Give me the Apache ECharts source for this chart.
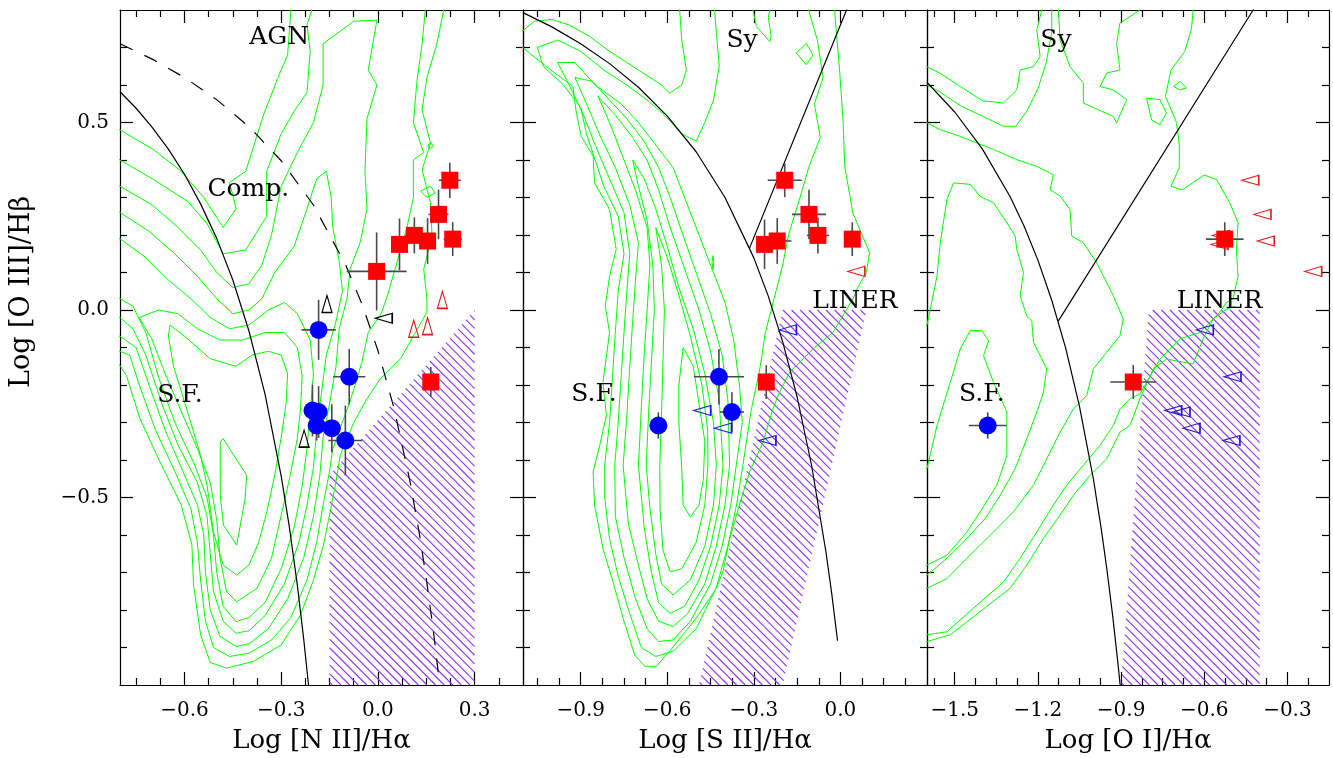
<!DOCTYPE html>
<html><head><meta charset="utf-8">
<script src="https://cdn.jsdelivr.net/npm/echarts@6/dist/echarts.min.js"></script>
<style>html,body{margin:0;padding:0;background:#fff}#c{width:1333px;height:758px}</style>
</head><body><div id="c"></div>
<script>
// ---------------- axes ----------------
const yRange = [-1.0, 0.8];
const yMajor = [-0.5, 0.0, 0.5];
const yMinor = [-0.9,-0.8,-0.7,-0.6,-0.4,-0.3,-0.2,-0.1,0.1,0.2,0.3,0.4,0.6,0.7];
const xRangeN2 = [-0.8, 0.45];
const xMajorN2 = [-0.6,-0.3,0.0,0.3];
const xMinorN2 = [-0.75,-0.675,-0.525,-0.45,-0.375,-0.225,-0.15,-0.075,0.075,0.15,0.225,0.375];
const xRangeS2 = [-1.1, 0.3];
const xMajorS2 = [-0.9,-0.6,-0.3,0.0];
const xMinorS2 = [-1.05,-0.975,-0.825,-0.75,-0.675,-0.525,-0.45,-0.375,-0.225,-0.15,-0.075,0.075,0.15,0.225];
const xRangeO1 = [-1.6, -0.15];
const xMajorO1 = [-1.5,-1.2,-0.9,-0.6,-0.3];
const xMinorO1 = [-1.575,-1.425,-1.35,-1.275,-1.125,-1.05,-0.975,-0.825,-0.75,-0.675,-0.525,-0.45,-0.375,-0.225];
const xTitles = ['Log [N II]/H\u03b1', 'Log [S II]/H\u03b1', 'Log [O I]/H\u03b1'];
const yTitle = 'Log [O III]/H\u03b2';

// ---------------- points: panel 1 [N II] ----------------
const n2RedX  = [0.223, 0.188, 0.113, 0.067, 0.154, 0.232, -0.004, 0.164];
const n2RedY  = [0.346, 0.255, 0.199, 0.175, 0.184, 0.189, 0.103, -0.192];
const n2RedEx = [0.034, 0.031, 0.028, 0.025, 0.020, 0.028, 0.093, 0.010];
const n2RedEy = [0.047, 0.066, 0.048, 0.069, 0.061, 0.045, 0.104, 0.040];
const n2BlueX  = [-0.184, -0.089, -0.203, -0.184, -0.190, -0.143, -0.101];
const n2BlueY  = [-0.053, -0.178, -0.268, -0.272, -0.308, -0.315, -0.348];
const n2BlueEx = [0.053, 0.050, 0.015, 0.015, 0.010, 0.020, 0.053];
const n2BlueEy = [0.080, 0.074, 0.069, 0.069, 0.040, 0.064, 0.093];
const n2BlackUpX = [-0.158, -0.229];
const n2BlackUpY = [0.016, -0.343];
const n2BlackLeftX = [0.018];
const n2BlackLeftY = [-0.022];
const n2RedUpX = [0.200, 0.111, 0.154];
const n2RedUpY = [0.027, -0.050, -0.043];

// ---------------- points: panel 2 [S II] ----------------
const s2RedX  = [-0.193, -0.109, -0.078, -0.263, -0.219, 0.041, -0.257];
const s2RedY  = [0.346, 0.255, 0.199, 0.175, 0.184, 0.189, -0.192];
const s2RedEx = [0.059, 0.059, 0.038, 0.028, 0.049, 0.028, 0.010];
const s2RedEy = [0.045, 0.066, 0.048, 0.066, 0.061, 0.045, 0.045];
const s2RedLeftX = [0.055];
const s2RedLeftY = [0.103];
const s2BlueX  = [-0.421, -0.376, -0.631];
const s2BlueY  = [-0.178, -0.272, -0.308];
const s2BlueEx = [0.087, 0.042, 0.005];
const s2BlueEy = [0.074, 0.053, 0.035];
const s2BlueLeftX = [-0.182, -0.479, -0.407, -0.253];
const s2BlueLeftY = [-0.053, -0.268, -0.315, -0.348];

// ---------------- points: panel 3 [O I] ----------------
const o1RedX  = [-0.526, -0.856];
const o1RedY  = [0.189, -0.192];
const o1RedEx = [0.068, 0.083];
const o1RedEy = [0.045, 0.045];
const o1RedLeftX = [-0.434, -0.390, -0.378, -0.207, -0.540, -0.545];
const o1RedLeftY = [0.346, 0.255, 0.184, 0.103, 0.199, 0.175];
const o1BlueX  = [-1.381];
const o1BlueY  = [-0.308];
const o1BlueEx = [0.068];
const o1BlueEy = [0.035];
const o1BlueLeftX = [-0.598, -0.498, -0.712, -0.682, -0.646, -0.502];
const o1BlueLeftY = [-0.053, -0.178, -0.268, -0.272, -0.315, -0.348];

// ---------------- demarcation curves (sampled) ----------------
const n2Kauff = [[-0.8,0.582],[-0.75,0.538],[-0.7,0.487],[-0.65,0.429],[-0.6,0.362],[-0.55,0.283],[-0.5,0.191],[-0.45,0.080],[-0.4,-0.056],[-0.35,-0.225],[-0.3,-0.443],[-0.275,-0.577],[-0.25,-0.733],[-0.23,-0.879],[-0.215,-1.002],[-0.21,-1.046]];
const n2Kewley = [[-0.8,0.710],[-0.7,0.669],[-0.6,0.620],[-0.5,0.561],[-0.4,0.489],[-0.3,0.398],[-0.2,0.280],[-0.1,0.120],[-0.05,0.017],[0.0,-0.108],[0.05,-0.262],[0.1,-0.459],[0.13,-0.604],[0.15,-0.716],[0.17,-0.843],[0.18,-0.913],[0.187,-0.966]];
const s2Kewley = [[-1.1,0.793],[-1.0,0.755],[-0.9,0.710],[-0.8,0.657],[-0.7,0.594],[-0.6,0.517],[-0.5,0.422],[-0.4,0.300],[-0.3,0.139],[-0.25,0.037],[-0.2,-0.085],[-0.15,-0.232],[-0.1,-0.414],[-0.05,-0.646],[-0.03,-0.757],[-0.01,-0.882]];
const s2SyLin = [[-0.315,0.165],[0.0212,0.80],[0.03,0.817]];
const o1Kewley = [[-1.6,0.607],[-1.5,0.528],[-1.4,0.429],[-1.3,0.302],[-1.25,0.224],[-1.2,0.133],[-1.15,0.026],[-1.1,-0.101],[-1.05,-0.257],[-1.0,-0.450],[-0.97,-0.591],[-0.95,-0.698],[-0.93,-0.817],[-0.91,-0.951],[-0.9,-1.025]];
const o1SyLin = [[-1.126,-0.029],[-0.4237,0.80],[-0.41,0.816]];

// ---------------- hatched regions ----------------
const n2Hatch = [[-0.15,-1.0],[0.30,-1.0],[0.30,0.0],[-0.15,-0.44]];
const s2Hatch = [[-0.20,0.0],[0.09,0.0],[-0.20,-1.0],[-0.49,-1.0]];
const o1Hatch = [[-0.80,0.0],[-0.40,0.0],[-0.40,-1.0],[-0.90,-1.0]];

// ---------------- density contours: panel 1 ----------------
const n2C1 = [[-0.85,0.51],[-0.8,0.48],[-0.7,0.43],[-0.61,0.37],[-0.54,0.30],[-0.48,0.22],[-0.44,0.27],[-0.46,0.34],[-0.41,0.37],[-0.355,0.52],[-0.31,0.62],[-0.28,0.68],[-0.27,0.8],[-0.27,0.86],[0.204,0.86],[0.204,0.8],[0.183,0.71],[0.152,0.62],[0.137,0.534],[0.163,0.445],[0.137,0.374],[0.163,0.286],[0.168,0.197],[0.142,0.109],[0.152,0.029],[0.152,-0.006],[0.07,-0.13],[0.007,-0.184],[-0.034,-0.237],[-0.075,-0.30],[-0.117,-0.388],[-0.132,-0.467],[-0.148,-0.538],[-0.169,-0.627],[-0.20,-0.72],[-0.24,-0.813],[-0.30,-0.893],[-0.386,-0.937],[-0.469,-0.955],[-0.52,-0.94],[-0.55,-0.866],[-0.572,-0.733],[-0.577,-0.627],[-0.61,-0.52],[-0.676,-0.405],[-0.738,-0.29],[-0.78,-0.175],[-0.8,-0.148],[-0.85,-0.12]];
const n2C2 = [[-0.85,0.43],[-0.8,0.40],[-0.70,0.35],[-0.59,0.29],[-0.53,0.23],[-0.48,0.15],[-0.41,0.16],[-0.345,0.25],[-0.345,0.37],[-0.30,0.47],[-0.26,0.53],[-0.22,0.58],[-0.21,0.69],[-0.22,0.76],[-0.205,0.8],[-0.205,0.86],[0.147,0.86],[0.147,0.8],[0.137,0.71],[0.121,0.61],[0.11,0.50],[0.142,0.42],[0.11,0.40],[0.11,0.30],[0.09,0.22],[0.06,0.13],[0.03,0.04],[0.01,-0.01],[-0.03,-0.06],[-0.05,-0.14],[-0.085,-0.24],[-0.115,-0.31],[-0.14,-0.37],[-0.15,-0.43],[-0.17,-0.52],[-0.19,-0.62],[-0.22,-0.72],[-0.27,-0.82],[-0.33,-0.88],[-0.40,-0.915],[-0.46,-0.924],[-0.51,-0.90],[-0.535,-0.83],[-0.55,-0.72],[-0.56,-0.62],[-0.58,-0.53],[-0.63,-0.43],[-0.69,-0.32],[-0.74,-0.20],[-0.77,-0.12],[-0.8,-0.11],[-0.85,-0.10]];
const n2C3 = [[-0.85,0.35],[-0.8,0.33],[-0.70,0.28],[-0.62,0.22],[-0.55,0.16],[-0.50,0.10],[-0.45,0.06],[-0.40,0.07],[-0.36,0.12],[-0.33,0.20],[-0.30,0.33],[-0.25,0.42],[-0.20,0.50],[-0.17,0.60],[-0.17,0.71],[-0.075,0.77],[-0.003,0.773],[-0.03,0.64],[-0.003,0.60],[-0.034,0.51],[-0.04,0.37],[-0.034,0.27],[-0.055,0.18],[-0.086,0.11],[-0.096,0.03],[-0.12,-0.05],[-0.13,-0.15],[-0.15,-0.25],[-0.17,-0.34],[-0.18,-0.44],[-0.20,-0.55],[-0.23,-0.66],[-0.28,-0.77],[-0.34,-0.85],[-0.40,-0.89],[-0.44,-0.897],[-0.49,-0.87],[-0.52,-0.80],[-0.535,-0.70],[-0.54,-0.60],[-0.56,-0.52],[-0.61,-0.42],[-0.66,-0.32],[-0.71,-0.20],[-0.75,-0.10],[-0.8,-0.07],[-0.85,-0.06]];
const n2C4 = [[-0.85,0.28],[-0.8,0.26],[-0.71,0.21],[-0.63,0.15],[-0.56,0.09],[-0.50,0.03],[-0.45,-0.01],[-0.40,0.0],[-0.36,0.03],[-0.32,0.10],[-0.26,0.17],[-0.22,0.27],[-0.19,0.35],[-0.16,0.37],[-0.145,0.30],[-0.14,0.22],[-0.12,0.13],[-0.11,0.05],[-0.13,-0.03],[-0.16,-0.12],[-0.175,-0.22],[-0.19,-0.32],[-0.20,-0.42],[-0.22,-0.52],[-0.245,-0.62],[-0.29,-0.73],[-0.35,-0.815],[-0.40,-0.855],[-0.44,-0.862],[-0.48,-0.83],[-0.51,-0.75],[-0.52,-0.65],[-0.53,-0.55],[-0.56,-0.46],[-0.62,-0.36],[-0.67,-0.25],[-0.72,-0.12],[-0.76,-0.05],[-0.8,-0.02],[-0.85,-0.01]];
const n2C5 = [[-0.85,0.21],[-0.8,0.19],[-0.72,0.14],[-0.65,0.08],[-0.58,0.03],[-0.52,-0.02],[-0.46,-0.05],[-0.40,-0.04],[-0.34,0.0],[-0.29,0.02],[-0.25,-0.01],[-0.21,-0.08],[-0.20,-0.17],[-0.21,-0.27],[-0.22,-0.37],[-0.235,-0.47],[-0.26,-0.58],[-0.30,-0.69],[-0.35,-0.78],[-0.40,-0.82],[-0.44,-0.831],[-0.48,-0.79],[-0.50,-0.70],[-0.51,-0.60],[-0.53,-0.50],[-0.57,-0.41],[-0.63,-0.30],[-0.68,-0.18],[-0.72,-0.06],[-0.76,0.01],[-0.8,0.03],[-0.85,0.04]];
const n2C6 = [[-0.74,-0.02],[-0.68,0.0],[-0.62,-0.01],[-0.56,-0.05],[-0.49,-0.08],[-0.42,-0.08],[-0.35,-0.06],[-0.29,-0.06],[-0.25,-0.10],[-0.235,-0.175],[-0.24,-0.264],[-0.25,-0.343],[-0.272,-0.441],[-0.30,-0.547],[-0.33,-0.662],[-0.375,-0.742],[-0.438,-0.778],[-0.47,-0.75],[-0.49,-0.66],[-0.50,-0.56],[-0.52,-0.46],[-0.56,-0.37],[-0.61,-0.27],[-0.66,-0.17],[-0.70,-0.08],[-0.74,-0.02]];
const n2C7 = [[-0.645,-0.04],[-0.65,-0.07],[-0.634,-0.15],[-0.593,-0.264],[-0.55,-0.388],[-0.53,-0.467],[-0.51,-0.592],[-0.48,-0.68],[-0.438,-0.707],[-0.40,-0.68],[-0.37,-0.62],[-0.345,-0.54],[-0.32,-0.44],[-0.30,-0.34],[-0.285,-0.25],[-0.28,-0.17],[-0.30,-0.12],[-0.34,-0.11],[-0.39,-0.12],[-0.44,-0.15],[-0.52,-0.13],[-0.60,-0.07],[-0.645,-0.04]];
const n2C8 = [[-0.489,-0.351],[-0.48,-0.343],[-0.407,-0.441],[-0.412,-0.503],[-0.438,-0.627],[-0.479,-0.574],[-0.489,-0.494],[-0.489,-0.351]];
const n2C9 = [[0.132,0.317],[0.163,0.33],[0.178,0.312],[0.152,0.30],[0.132,0.317]];
const n2C10 = [[0.155,0.44],[0.165,0.447],[0.172,0.436],[0.16,0.43],[0.155,0.44]];

// ---------------- density contours: panel 2 ----------------
const s2C1 = [[-1.12,0.745],[-1.1,0.745],[-1.06,0.77],[-1.0,0.775],[-0.94,0.76],[-0.87,0.73],[-0.80,0.69],[-0.74,0.66],[-0.68,0.63],[-0.62,0.60],[-0.592,0.578],[-0.55,0.60],[-0.534,0.64],[-0.55,0.72],[-0.557,0.8],[-0.557,0.86],[-0.02,0.86],[-0.02,0.8],[-0.014,0.738],[-0.003,0.64],[0.009,0.507],[0.015,0.383],[0.043,0.259],[0.101,0.153],[0.09,0.10],[0.06,0.06],[0.043,0.029],[-0.026,-0.06],[-0.095,-0.104],[-0.176,-0.166],[-0.211,-0.219],[-0.234,-0.264],[-0.268,-0.352],[-0.315,-0.432],[-0.35,-0.52],[-0.384,-0.61],[-0.407,-0.698],[-0.43,-0.742],[-0.50,-0.822],[-0.592,-0.91],[-0.638,-0.95],[-0.678,-0.95],[-0.713,-0.92],[-0.753,-0.822],[-0.788,-0.725],[-0.823,-0.636],[-0.852,-0.52],[-0.857,-0.432],[-0.834,-0.361],[-0.811,-0.281],[-0.823,-0.193],[-0.80,-0.06],[-0.815,0.01],[-0.80,0.09],[-0.777,0.162],[-0.80,0.268],[-0.852,0.339],[-0.857,0.41],[-0.898,0.463],[-0.915,0.525],[-0.927,0.596],[-1.019,0.649],[-1.077,0.685],[-1.1,0.70],[-1.12,0.71]];
const s2C2 = [[-1.05,0.70],[-0.98,0.72],[-0.90,0.69],[-0.82,0.64],[-0.74,0.60],[-0.67,0.56],[-0.61,0.52],[-0.55,0.47],[-0.50,0.45],[-0.47,0.50],[-0.44,0.56],[-0.42,0.65],[-0.43,0.74],[-0.436,0.8],[-0.436,0.86],[-0.11,0.86],[-0.11,0.8],[-0.08,0.72],[-0.06,0.62],[-0.09,0.55],[-0.07,0.46],[-0.11,0.38],[-0.14,0.30],[-0.18,0.20],[-0.20,0.12],[-0.23,0.03],[-0.26,-0.06],[-0.28,-0.16],[-0.31,-0.27],[-0.338,-0.414],[-0.36,-0.52],[-0.39,-0.63],[-0.43,-0.74],[-0.50,-0.85],[-0.58,-0.91],[-0.64,-0.924],[-0.69,-0.90],[-0.73,-0.81],[-0.77,-0.71],[-0.80,-0.61],[-0.817,-0.50],[-0.817,-0.414],[-0.80,-0.30],[-0.79,-0.18],[-0.78,-0.06],[-0.77,0.05],[-0.75,0.15],[-0.77,0.25],[-0.82,0.33],[-0.85,0.40],[-0.88,0.47],[-0.90,0.54],[-0.96,0.60],[-1.03,0.65],[-1.05,0.70]];
const s2C3 = [[-0.98,0.66],[-0.92,0.66],[-0.85,0.60],[-0.76,0.55],[-0.70,0.50],[-0.64,0.44],[-0.58,0.38],[-0.54,0.30],[-0.50,0.22],[-0.45,0.12],[-0.40,0.02],[-0.37,-0.08],[-0.35,-0.20],[-0.34,-0.30],[-0.361,-0.414],[-0.38,-0.52],[-0.41,-0.63],[-0.45,-0.73],[-0.52,-0.83],[-0.58,-0.88],[-0.63,-0.884],[-0.67,-0.85],[-0.71,-0.77],[-0.75,-0.66],[-0.78,-0.55],[-0.782,-0.414],[-0.77,-0.30],[-0.76,-0.18],[-0.75,-0.06],[-0.74,0.05],[-0.73,0.15],[-0.75,0.26],[-0.80,0.35],[-0.85,0.44],[-0.89,0.52],[-0.94,0.60],[-0.98,0.66]];
const s2C4 = [[-0.92,0.62],[-0.86,0.61],[-0.80,0.56],[-0.74,0.51],[-0.68,0.45],[-0.63,0.38],[-0.59,0.30],[-0.55,0.21],[-0.50,0.10],[-0.45,-0.01],[-0.41,-0.12],[-0.39,-0.24],[-0.384,-0.414],[-0.40,-0.52],[-0.43,-0.63],[-0.47,-0.73],[-0.53,-0.81],[-0.58,-0.844],[-0.63,-0.83],[-0.67,-0.77],[-0.70,-0.68],[-0.735,-0.57],[-0.753,-0.414],[-0.74,-0.28],[-0.73,-0.15],[-0.72,-0.03],[-0.71,0.08],[-0.70,0.18],[-0.73,0.28],[-0.78,0.38],[-0.83,0.46],[-0.88,0.55],[-0.92,0.62]];
const s2C5 = [[-0.84,0.57],[-0.78,0.52],[-0.72,0.46],[-0.67,0.40],[-0.63,0.32],[-0.59,0.22],[-0.54,0.11],[-0.49,0.0],[-0.45,-0.11],[-0.42,-0.24],[-0.407,-0.414],[-0.42,-0.52],[-0.45,-0.63],[-0.49,-0.72],[-0.54,-0.79],[-0.59,-0.809],[-0.63,-0.78],[-0.655,-0.70],[-0.68,-0.58],[-0.70,-0.414],[-0.69,-0.26],[-0.68,-0.12],[-0.67,0.0],[-0.66,0.12],[-0.67,0.22],[-0.71,0.32],[-0.76,0.42],[-0.80,0.50],[-0.84,0.57]];
const s2C6 = [[-0.72,0.40],[-0.68,0.35],[-0.64,0.27],[-0.60,0.17],[-0.56,0.06],[-0.51,-0.05],[-0.47,-0.17],[-0.44,-0.30],[-0.43,-0.414],[-0.44,-0.52],[-0.47,-0.63],[-0.52,-0.72],[-0.58,-0.76],[-0.62,-0.73],[-0.64,-0.65],[-0.66,-0.53],[-0.673,-0.414],[-0.665,-0.28],[-0.655,-0.14],[-0.645,0.0],[-0.65,0.12],[-0.67,0.24],[-0.70,0.33],[-0.72,0.40]];
const s2C7 = [[-0.64,0.22],[-0.60,0.14],[-0.56,0.04],[-0.52,-0.07],[-0.48,-0.20],[-0.46,-0.32],[-0.459,-0.414],[-0.47,-0.52],[-0.50,-0.62],[-0.55,-0.69],[-0.59,-0.698],[-0.615,-0.64],[-0.625,-0.53],[-0.626,-0.414],[-0.62,-0.28],[-0.615,-0.14],[-0.61,0.0],[-0.62,0.12],[-0.64,0.22]];
const s2C8 = [[-0.545,-0.10],[-0.51,-0.15],[-0.49,-0.25],[-0.47,-0.35],[-0.475,-0.45],[-0.49,-0.52],[-0.52,-0.552],[-0.545,-0.52],[-0.55,-0.42],[-0.56,-0.30],[-0.56,-0.20],[-0.545,-0.10]];
const s2C9 = [[-0.153,0.685],[-0.118,0.711],[-0.095,0.68],[-0.118,0.654],[-0.153,0.685]];
const s2C10 = [[-0.442,0.145],[-0.439,0.127],[-0.442,0.108],[-0.445,0.127],[-0.442,0.145]];
const s2C11 = [[-0.303,0.86],[-0.303,0.8],[-0.291,0.756],[-0.245,0.716],[-0.24,0.73],[-0.25,0.78],[-0.245,0.8],[-0.245,0.86]];

// ---------------- density contours: panel 3 ----------------
const o1CA = [[-1.62,0.66],[-1.6,0.649],[-1.55,0.63],[-1.48,0.596],[-1.40,0.558],[-1.324,0.552],[-1.276,0.587],[-1.264,0.64],[-1.216,0.649],[-1.192,0.676],[-1.204,0.747],[-1.186,0.8],[-1.186,0.86]];
const o1CB = [[-1.62,0.61],[-1.6,0.60],[-1.55,0.58],[-1.48,0.545],[-1.40,0.517],[-1.324,0.49],[-1.28,0.49],[-1.24,0.53],[-1.20,0.59],[-1.17,0.66],[-1.15,0.74],[-1.15,0.8],[-1.15,0.86]];
const o1CT = [[-1.126,0.86],[-1.126,0.8],[-1.12,0.72],[-1.084,0.649],[-1.036,0.605],[-1.036,0.552],[-0.928,0.516],[-0.916,0.499],[-0.88,0.561],[-0.928,0.587],[-0.976,0.596],[-0.952,0.632],[-0.904,0.64],[-0.916,0.711],[-0.904,0.765],[-0.832,0.8],[-0.832,0.86]];
const o1CC = [[-1.62,0.50],[-1.6,0.499],[-1.552,0.481],[-1.48,0.463],[-1.36,0.428],[-1.276,0.401],[-1.204,0.383],[-1.144,0.361],[-1.156,0.321],[-1.12,0.304],[-1.084,0.268],[-1.078,0.197],[-1.036,0.179],[-0.988,0.126],[-0.964,0.091],[-0.928,0.038],[-0.892,-0.024],[-0.904,-0.068],[-0.952,-0.113],[-1.0,-0.157],[-1.024,-0.228],[-1.072,-0.264],[-1.12,-0.326],[-1.168,-0.397],[-1.216,-0.467],[-1.288,-0.538],[-1.36,-0.592],[-1.456,-0.662],[-1.528,-0.716],[-1.6,-0.742],[-1.62,-0.75]];
const o1CD = [[-1.62,-0.04],[-1.6,-0.04],[-1.588,0.002],[-1.564,0.09],[-1.552,0.18],[-1.528,0.295],[-1.504,0.339],[-1.444,0.335],[-1.408,0.303],[-1.36,0.286],[-1.312,0.233],[-1.282,0.197],[-1.276,0.162],[-1.252,0.10],[-1.264,0.038],[-1.24,-0.016],[-1.222,-0.03],[-1.216,-0.086],[-1.168,-0.157],[-1.18,-0.219],[-1.204,-0.272],[-1.24,-0.343],[-1.282,-0.423],[-1.336,-0.494],[-1.39,-0.556],[-1.456,-0.609],[-1.528,-0.662],[-1.6,-0.707],[-1.62,-0.71]];
const o1CE = [[-1.62,-0.42],[-1.6,-0.423],[-1.564,-0.308],[-1.516,-0.193],[-1.48,-0.104],[-1.444,-0.055],[-1.402,-0.055],[-1.378,-0.082],[-1.396,-0.122],[-1.36,-0.193],[-1.312,-0.272],[-1.312,-0.388],[-1.348,-0.467],[-1.408,-0.538],[-1.456,-0.592],[-1.528,-0.654],[-1.6,-0.68],[-1.62,-0.68]];
const o1CR = [[-0.64,0.86],[-0.64,0.8],[-0.646,0.75],[-0.67,0.69],[-0.72,0.64],[-0.74,0.57],[-0.70,0.50],[-0.69,0.44],[-0.69,0.38],[-0.72,0.33],[-0.68,0.32],[-0.64,0.34],[-0.60,0.36],[-0.556,0.348],[-0.508,0.286],[-0.478,0.233],[-0.484,0.162],[-0.478,0.09],[-0.496,0.03],[-0.52,0.02],[-0.544,-0.006],[-0.58,-0.033],[-0.616,-0.06],[-0.688,-0.077],[-0.76,-0.131],[-0.808,-0.193],[-0.832,-0.224],[-0.868,-0.237],[-0.904,-0.264],[-0.928,-0.308],[-0.976,-0.361],[-1.036,-0.414],[-1.096,-0.467],[-1.144,-0.52],[-1.204,-0.592],[-1.264,-0.662],[-1.324,-0.725],[-1.42,-0.787],[-1.528,-0.858],[-1.6,-0.866],[-1.62,-0.87]];
const o1CL = [[-1.62,-0.886],[-1.6,-0.884],[-1.516,-0.866],[-1.408,-0.804],[-1.30,-0.742],[-1.24,-0.68],[-1.18,-0.609],[-1.12,-0.547],[-1.072,-0.494],[-1.012,-0.441],[-0.952,-0.397],[-0.904,-0.326],[-0.868,-0.308],[-0.832,-0.237],[-0.784,-0.157],[-0.736,-0.131],[-0.64,-0.144],[-0.604,-0.077],[-0.568,-0.024],[-0.52,0.002],[-0.49,0.01]];
const o1CS1 = [[-0.808,0.565],[-0.76,0.561],[-0.736,0.525],[-0.76,0.494],[-0.79,0.507],[-0.808,0.565]];
const o1CS2 = [[-0.71,0.596],[-0.688,0.61],[-0.664,0.592],[-0.688,0.587],[-0.71,0.596]];

// ---------------- region labels ----------------
const n2Labels = [['AGN',-0.306,0.726],['Comp.',-0.402,0.322],['S.F.',-0.614,-0.229]];
const s2Labels = [['Sy',-0.341,0.72],['S.F.',-0.854,-0.226],['LINER',0.05,0.024]];
const o1Labels = [['Sy',-1.135,0.72],['S.F.',-1.402,-0.226],['LINER',-0.545,0.024]];

// ================= build chart =================
const FONT = 'DejaVu Serif';
const chart = echarts.init(document.getElementById('c'), null, {renderer: 'canvas'});
const fmt = v => (v < -1e-9 ? '\u2212' : '') + Math.abs(v).toFixed(1);

const grids = [
  {left: 120, top: 10, width: 403, height: 675},
  {left: 523, top: 10, width: 404, height: 675},
  {left: 927, top: 10, width: 402, height: 675}
].map(g => Object.assign({containLabel: false, outerBoundsMode: 'none'}, g));

function axis(gi, pos, rng, vals, len, showLine, labelVals, extra) {
  return Object.assign({
    gridIndex: gi, type: 'value', position: pos, min: rng[0], max: rng[1],
    axisLine: {show: showLine, onZero: false, lineStyle: {color: '#000', width: 1.2}},
    axisTick: {show: true, inside: true, length: len, customValues: vals, lineStyle: {color: '#000', width: 1.2}},
    axisLabel: labelVals ? {show: true, customValues: labelVals, formatter: fmt, fontFamily: FONT, fontSize: 20, color: '#000', margin: (pos === 'bottom' ? 16 : 11)} : {show: false},
    splitLine: {show: false}, minorTick: {show: false}, minorSplitLine: {show: false}, splitArea: {show: false}
  }, extra || {});
}

const xDefs = [[xRangeN2, xMajorN2, xMinorN2], [xRangeS2, xMajorS2, xMinorS2], [xRangeO1, xMajorO1, xMinorO1]];
const xAxes = [], yAxes = [];
xDefs.forEach((d, i) => {
  xAxes.push(axis(i, 'bottom', d[0], d[1], 13, true, d[1], {
    name: xTitles[i], nameLocation: 'middle', nameGap: 43,
    nameTextStyle: {fontFamily: FONT, fontSize: 26, color: '#000'}}));
  xAxes.push(axis(i, 'bottom', d[0], d[2], 7, false, null));
  xAxes.push(axis(i, 'top', d[0], d[1], 13, true, null));
  xAxes.push(axis(i, 'top', d[0], d[2], 7, false, null));
  yAxes.push(axis(i, 'left', yRange, yMajor, 13, true, i === 0 ? yMajor : null));
  yAxes.push(axis(i, 'left', yRange, yMinor, 7, false, null));
  yAxes.push(axis(i, 'right', yRange, yMajor, 13, true, null));
  yAxes.push(axis(i, 'right', yRange, yMinor, 7, false, null));
});

const series = [];
const base = i => ({xAxisIndex: 4 * i, yAxisIndex: 4 * i, silent: true, animation: false});

function addLines(i, list, color, width, type, z) {
  list.forEach(pts => series.push(Object.assign(base(i), {
    type: 'line', data: pts, showSymbol: false, symbol: 'none', clip: true, z: z,
    lineStyle: {color: color, width: width, type: type || 'solid'}
  })));
}

function makeHatch(poly) {
  return function (params, api) {
    const pts = poly.map(p => api.coord(p));
    const d = pts.map(p => p[1] - p[0]);
    const cmin = Math.min.apply(null, d), cmax = Math.max.apply(null, d);
    const step = 8.6;
    const children = [];
    for (let c = Math.ceil(cmin / step) * step; c <= cmax; c += step) {
      const hits = [];
      for (let k = 0; k < pts.length; k++) {
        const A = pts[k], B = pts[(k + 1) % pts.length];
        const dA = A[1] - A[0], dB = B[1] - B[0];
        if (Math.abs(dA - dB) < 1e-9) continue;
        const t = (c - dA) / (dB - dA);
        if (t >= 0 && t <= 1) hits.push([A[0] + t * (B[0] - A[0]), A[1] + t * (B[1] - A[1])]);
      }
      if (hits.length >= 2) {
        hits.sort((a, b) => a[0] - b[0]);
        const p = hits[0], q = hits[hits.length - 1];
        children.push({type: 'line', shape: {x1: p[0], y1: p[1], x2: q[0], y2: q[1]},
          style: {stroke: '#8f34ee', lineWidth: 1.1}});
      }
    }
    return {type: 'group', children: children};
  };
}
function addHatch(i, poly) {
  series.push(Object.assign(base(i), {type: 'custom', renderItem: makeHatch(poly), data: [poly[0]], encode: {x: 0, y: 1}, z: 1}));
}

function errRender(params, api) {
  const x = api.value(0), y = api.value(1), ex = api.value(2), ey = api.value(3);
  const l = api.coord([x - ex, y]), r = api.coord([x + ex, y]);
  const t = api.coord([x, y + ey]), b = api.coord([x, y - ey]);
  const st = {stroke: '#4a4a4a', lineWidth: 1.6};
  return {type: 'group', children: [
    {type: 'line', shape: {x1: l[0], y1: l[1], x2: r[0], y2: r[1]}, style: st},
    {type: 'line', shape: {x1: t[0], y1: t[1], x2: b[0], y2: b[1]}, style: st}]};
}
function addErr(i, xs, ys, exs, eys) {
  series.push(Object.assign(base(i), {type: 'custom', renderItem: errRender,
    data: xs.map((x, k) => [x, ys[k], exs[k], eys[k]]), encode: {x: 0, y: 1}, z: 4}));
}
function addFilled(i, xs, ys, symbol, size, color) {
  series.push(Object.assign(base(i), {type: 'scatter', symbol: symbol, symbolSize: size,
    data: xs.map((x, k) => [x, ys[k]]), itemStyle: {color: color, opacity: 1}, z: 5}));
}
function addOpenTri(i, xs, ys, rotate, color) {
  series.push(Object.assign(base(i), {type: 'scatter', symbol: 'triangle', symbolSize: [10, 17], symbolRotate: rotate,
    data: xs.map((x, k) => [x, ys[k]]),
    itemStyle: {color: 'rgba(255,255,255,0)', borderColor: color, borderWidth: 1.3, opacity: 1}, z: 5}));
}

const GREEN = '#00ff00';
// panel 1
addHatch(0, n2Hatch);
addLines(0, [n2C1, n2C2, n2C3, n2C4, n2C5, n2C6, n2C7, n2C8, n2C9, n2C10], GREEN, 1, 'solid', 2);
addLines(0, [n2Kauff], '#000', 1.2, 'solid', 3);
addLines(0, [n2Kewley], '#000', 1.2, [14, 13], 3);
addErr(0, n2RedX, n2RedY, n2RedEx, n2RedEy);
addErr(0, n2BlueX, n2BlueY, n2BlueEx, n2BlueEy);
addFilled(0, n2RedX, n2RedY, 'rect', 17, '#ff0000');
addFilled(0, n2BlueX, n2BlueY, 'circle', 18, '#0000ff');
addOpenTri(0, n2BlackUpX, n2BlackUpY, 0, '#000');
addOpenTri(0, n2BlackLeftX, n2BlackLeftY, 90, '#000');
addOpenTri(0, n2RedUpX, n2RedUpY, 0, '#dd1a1a');
// panel 2
addHatch(1, s2Hatch);
addLines(1, [s2C1, s2C2, s2C3, s2C4, s2C5, s2C6, s2C7, s2C8, s2C9, s2C10, s2C11], GREEN, 1, 'solid', 2);
addLines(1, [s2Kewley, s2SyLin], '#000', 1.2, 'solid', 3);
addErr(1, s2RedX, s2RedY, s2RedEx, s2RedEy);
addErr(1, s2BlueX, s2BlueY, s2BlueEx, s2BlueEy);
addFilled(1, s2RedX, s2RedY, 'rect', 17, '#ff0000');
addFilled(1, s2BlueX, s2BlueY, 'circle', 18, '#0000ff');
addOpenTri(1, s2RedLeftX, s2RedLeftY, 90, '#e02020');
addOpenTri(1, s2BlueLeftX, s2BlueLeftY, 90, '#1a1ae6');
// panel 3
addHatch(2, o1Hatch);
addLines(2, [o1CA, o1CB, o1CT, o1CC, o1CD, o1CE, o1CR, o1CL, o1CS1, o1CS2], GREEN, 1, 'solid', 2);
addLines(2, [o1Kewley, o1SyLin], '#000', 1.2, 'solid', 3);
addOpenTri(2, o1RedLeftX, o1RedLeftY, 90, '#e02020');
addErr(2, o1RedX, o1RedY, o1RedEx, o1RedEy);
addErr(2, o1BlueX, o1BlueY, o1BlueEx, o1BlueEy);
addFilled(2, o1RedX, o1RedY, 'rect', 17, '#ff0000');
addFilled(2, o1BlueX, o1BlueY, 'circle', 18, '#0000ff');
addOpenTri(2, o1BlueLeftX, o1BlueLeftY, 90, '#2a18c8');

chart.setOption({
  animation: false,
  backgroundColor: '#ffffff',
  textStyle: {fontFamily: FONT},
  grid: grids,
  xAxis: xAxes,
  yAxis: yAxes,
  series: series
});

// region labels placed through each panel's own scales
const textEls = [{type: 'text', x: 22, y: 292, rotation: Math.PI / 2, z: 10,
  style: {text: yTitle, fontFamily: FONT, fontSize: 27, fill: '#000', align: 'center', verticalAlign: 'middle'}}];
[n2Labels, s2Labels, o1Labels].forEach((list, i) => {
  list.forEach(l => {
    const p = chart.convertToPixel({xAxisIndex: 4 * i, yAxisIndex: 4 * i}, [l[1], l[2]]);
    textEls.push({type: 'text', x: p[0], y: p[1], z: 10,
      style: {text: l[0], fontFamily: FONT, fontSize: 25, fill: '#000', align: 'center', verticalAlign: 'middle'}});
  });
});
chart.setOption({graphic: textEls});
</script></body></html>
